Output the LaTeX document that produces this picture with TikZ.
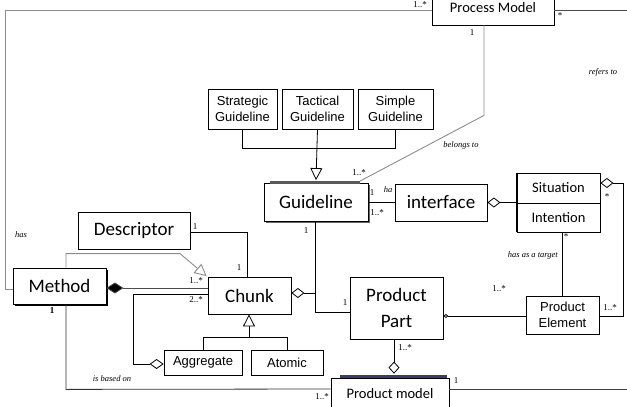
\documentclass[tikz,border=0pt]{standalone}
\usepackage{fontspec}
\setmainfont{Liberation Serif}
\newfontfamily\calfont{Carlito}
\newfontfamily\arialfont{Liberation Sans}
\usetikzlibrary{arrows.meta,calc,shadows}
\definecolor{barnavy}{RGB}{60,60,100}
\begin{document}
\begin{tikzpicture}[x=1pt,y=-1pt,
  box/.style={draw, fill=white, line width=0.8pt, inner sep=0pt, align=center},
  big/.style={font=\calfont\fontsize{19}{26}\selectfont},
  mid/.style={font=\calfont\fontsize{14.5}{17}\selectfont},
  ar/.style={font=\arialfont\fontsize{13}{16}\selectfont},
  mult/.style={font=\fontsize{9}{10}\selectfont, inner sep=0pt},
  lab/.style={font=\itshape\fontsize{8.5}{10}\selectfont, inner sep=0pt},
  conn/.style={line width=0.8pt},
  gconn/.style={line width=0.9pt, draw=black!45},
  gen/.style={-{Triangle[open,length=12pt,width=12pt,fill=white]}},
  agg/.style={{Diamond[open,length=13pt,width=10pt,fill=white]}-},
]
\useasboundingbox (0,0) rectangle (627,407);

% classes
\node[box,mid,minimum width=122pt,minimum height=34pt] (pm) at (493,8) {Process Model};
\node[box,ar,minimum width=69pt,minimum height=40pt] (strat) at (242.5,109) {Strategic\\Guideline};
\node[box,ar,minimum width=71pt,minimum height=40pt] (tact) at (317.5,109) {Tactical\\Guideline};
\node[box,ar,minimum width=75pt,minimum height=40pt] (simp) at (395.5,109) {Simple\\Guideline};
\node[box,big,minimum width=104pt,minimum height=38pt,
      drop shadow={shadow xshift=1.5pt,shadow yshift=-1.5pt,fill=black!60,opacity=1}] (guide) at (316,202) {Guideline};
\fill[black!65] (270,180.5) rectangle (360,183.5);
\node[box,big,minimum width=92pt,minimum height=37pt] (iface) at (441,202.5) {interface};
\node[box,mid,minimum width=83pt,minimum height=30pt] (sit) at (558.5,188) {Situation};
\node[box,mid,minimum width=83pt,minimum height=29pt] (int) at (558.5,217.5) {Intention};
\draw[line width=1.8pt] (sit.north west) -- (int.south west);
\node[box,ar,minimum width=73pt,minimum height=38pt] (pe) at (562.5,315) {Product\\Element};
\node[box,big,minimum width=93pt,minimum height=62pt] (pp) at (396.5,308) {Product\\Part};
\node[box,mid,minimum width=118pt,minimum height=32pt] (pmod) at (390,394) {Product model};
\fill[barnavy] (340,375.2) rectangle (447,377.6);
\node[box,big,minimum width=112pt,minimum height=37pt] (desc) at (134,230.5) {Descriptor};
\node[box,big,minimum width=93pt,minimum height=36pt,
      drop shadow={shadow xshift=2pt,shadow yshift=-2pt,fill=black,opacity=1}] (meth) at (59.5,286) {Method};
\node[box,big,minimum width=83pt,minimum height=37pt] (chunk) at (249.5,295.5) {Chunk};
\node[box,ar,minimum width=78pt,minimum height=25pt] (aggr) at (203,362.5) {Aggregate};
\node[box,ar,minimum width=72pt,minimum height=25pt] (atom) at (287,362.5) {Atomic};

% free ends running off the right edge
\coordinate (rtop) at (627,10);
\coordinate (rbot) at (627,389);
\coordinate (gl) at ([xshift=-1pt]guide.south);

% Method has Process Model
\draw[gconn] ([yshift=-3pt]meth.west) -- ++(-7,0) |- ([yshift=-2pt]pm.west);
\node[mult] at (420,5) {1..*};
\node[lab] at (21,235) {has};

% Process Model refers to
\draw[conn,draw=black!70] ([yshift=-2pt]pm.east) -- (rtop);
\node[mult] at (560,16) {*};
\node[lab] at (603,72) {refers to};

% Guideline belongs to Process Model
\draw[gconn] ([xshift=-9pt]pm.south) -- ++(0,90) -- ([xshift=44pt,yshift=1.5pt]guide.north);
\node[mult] at (472,33) {1};
\node[lab] at (461,145) {belongs to};
\node[mult] at (359,173) {1..*};

% Guideline specialisations
\draw[conn] (strat.south) -- ++(0,19) -| (simp.south);
\draw[conn,gen] (tact.south) -- ([yshift=2.5pt]guide.north);

% Guideline has interface
\draw[conn] (guide.east) -- (guide.east -| iface.west);
\node[mult] at (372,193) {1};
\node[lab] at (388,190) {ha};
\node[mult] at (377,213) {1..*};

% interface aggregates Situation/Intention
\draw[conn,agg] (iface.east) -- (iface.east -| sit.west);

% Situation refers to Product Element
\draw[conn,agg] ([yshift=5pt]sit.east) -- (623,183) |- ([yshift=-1pt]pe.east);
\node[mult] at (607,197) {*};
\node[mult] at (610,308) {1..*};

% Intention has as a target Product Element
\draw[conn] (int.south -| pe.north) -- (pe.north);
\node[mult] at (566,237) {*};
\node[lab,anchor=east] at (558,255) {has as a target};

% Product Part -- Product Element
\draw[conn,{Diamond[open,length=5pt,width=4pt]}-] ([yshift=-1pt]pe.west -| pp.east) -- ([yshift=-1pt]pe.west);
\node[mult] at (499,289) {1..*};

% Guideline -- Product Part
\draw[conn] (gl) |- ([yshift=-4pt]pp.west);
\node[mult] at (306,231) {1};
\node[mult] at (345,303) {1};

% Chunk aggregation onto the Guideline line
\draw[conn,agg] ([yshift=2.5pt]chunk.east) coordinate (cd) -- (cd -| gl);

% Product Part -- Product model
\draw[conn,-{Diamond[open,length=12pt,width=11pt,fill=white]}] ([xshift=-2.5pt]pp.south) -- ([xshift=-2.5pt,yshift=4pt]pp.south |- pmod.north);
\node[mult] at (405,348) {1..*};

% Product model continues to the right
\draw[conn,draw=black!75] ([yshift=5pt]pmod.east) -- (rbot);
\node[mult] at (456,381) {1};

% Method is based on Product model
\draw[conn,draw=black!80] ([xshift=6.5pt]meth.south) -- ++(0,85) -- ([yshift=5pt]pmod.west);
\node[mult,font=\bfseries\fontsize{9}{10}\selectfont] at (52,311) {1};
\node[lab] at (112,379) {is based on};
\node[mult] at (322,397) {1..*};

% Method specialises Chunk
\draw[gconn,gen] ([xshift=6.5pt]meth.north) -- ++(0,-14) -- ++(114,0) -- ([xshift=-1pt,yshift=0.5pt]chunk.north west);

% Descriptor -- Chunk
\draw[conn] ([yshift=-1.5pt]desc.east) -| ([xshift=-2.5pt]chunk.north);
\node[mult] at (195,227) {1};
\node[mult] at (239,268) {1};

% Method composed of Chunks
\draw[conn,draw=black!70,{Diamond[length=17pt,width=11pt,fill=black]}-] ([yshift=-2pt]meth.east) -- ([yshift=-2pt]meth.east -| chunk.west);
\node[mult] at (196,281) {1..*};

% Aggregate of Chunks
\draw[conn,-{Diamond[open,length=14pt,width=10pt,fill=white]}] ([yshift=1.5pt]chunk.west) -- ++(-74,0) |- ([yshift=-1.5pt]aggr.west);
\node[mult] at (196,300) {2..*};

% Chunk specialisations
\draw[conn] (aggr.north) -- ++(0,-12) -| (atom.north);
\draw[conn,gen] ([xshift=-0.5pt,yshift=-24pt]chunk.south) -- ([xshift=-0.5pt]chunk.south);
\end{tikzpicture}
\end{document}
